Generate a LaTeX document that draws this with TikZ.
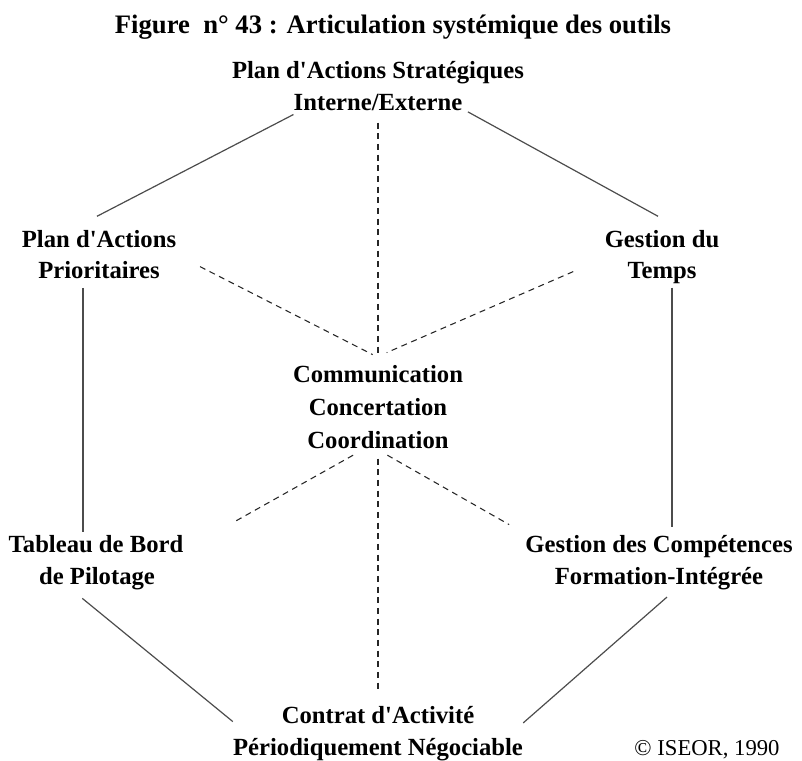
\documentclass[tikz,border=0pt]{standalone}
\usepackage{fontspec}
\setmainfont{Liberation Serif}
\newcommand{\ap}{\textquotesingle}

\tikzset{
  lbl/.style={font=\bfseries\fontsize{18.5}{22}\selectfont, inner sep=0pt, anchor=base},
  solidline/.style={draw=black!70, line width=0.9pt},
  spoke/.style={draw=black!85, line width=0.8pt, dash pattern=on 4.5pt off 3.5pt}
}

\begin{document}
\begin{tikzpicture}[x=0.75pt, y=-0.75pt]
  \useasboundingbox (0,0) rectangle (802,760);
  % Title
  \node[lbl, font=\bfseries\fontsize{20}{24}\selectfont] (title) at (393,33) {Figure\ \ n° 43 : Articulation systémique des outils};
  % Labels
  \node[lbl] (strat1) at (378,78) {Plan d\ap Actions Stratégiques};
  \node[lbl] (strat2) at (378,110) {Interne/Externe};
  \node[lbl] (pap1) at (99,247) {Plan d\ap Actions};
  \node[lbl] (pap2) at (99,278) {Prioritaires};
  \node[lbl] (gt1) at (662,247) {Gestion du};
  \node[lbl] (gt2) at (662,278) {Temps};
  \node[lbl] (com1) at (378,382) {Communication};
  \node[lbl] (com2) at (378,415) {Concertation};
  \node[lbl] (com3) at (378,448) {Coordination};
  \node[lbl] (tb1) at (96,552) {Tableau de Bord};
  \node[lbl] (tb2) at (97,584) {de Pilotage};
  \node[lbl] (gc1) at (659,552) {Gestion des Compétences};
  \node[lbl] (gc2) at (659,584) {Formation-Intégrée};
  \node[lbl] (ca1) at (378,723) {Contrat d\ap Activité};
  \node[lbl] (ca2) at (378,755) {Périodiquement Négociable};
  \node[anchor=base, inner sep=0pt, font=\fontsize{17}{20}\selectfont] (cpr) at (707,755) {\textcopyright{} ISEOR, 1990};
  % Hexagon sides
  \draw[solidline] ([yshift=-3pt]strat2.south west) -- ([xshift=-1.5pt, yshift=10pt]pap1.north);
  \draw[solidline] ([xshift=4pt, yshift=-1pt]strat2.south east) -- ([xshift=-3pt, yshift=10pt]gt1.north);
  \draw[solidline] ([xshift=-12pt, yshift=-7pt]pap2.south) -- ([xshift=-12pt, yshift=2pt]pap2.south |- tb1.north);
  \draw[solidline] ([xshift=7.5pt, yshift=-3pt]gt2.south) -- ([xshift=7.5pt, yshift=6pt]gt2.south |- gc1.north);
  \draw[solidline] ([xshift=-11pt, yshift=-6.5pt]tb2.south) -- ([yshift=12pt]ca2.north west);
  \draw[solidline] ([xshift=6pt, yshift=-5.5pt]gc2.south) -- ([yshift=11pt]ca2.north east);
  % Spokes to the centre
  \draw[spoke] ([yshift=-9pt]strat2.south) -- ([yshift=7.5pt]strat2.south |- com1.north);
  \draw[spoke] ([xshift=30pt, yshift=-4.5pt]pap2.north east) -- ([xshift=-4pt, yshift=7.5pt]com1.north);
  \draw[spoke] ([xshift=-40.5pt, yshift=-7.5pt]gt2.north west) -- ([xshift=6.5pt, yshift=9pt]com1.north);
  \draw[spoke] ([yshift=-7.5pt]com3.south) -- ([yshift=9.5pt]com3.south |- ca1.north);
  \draw[spoke] ([xshift=34.5pt, yshift=-5pt]com3.south west) -- ([xshift=37pt, yshift=9pt]tb1.north east);
  \draw[spoke] ([xshift=7pt, yshift=-5pt]com3.south) -- ([xshift=-12pt, yshift=7.5pt]gc1.north west);
\end{tikzpicture}
\end{document}
